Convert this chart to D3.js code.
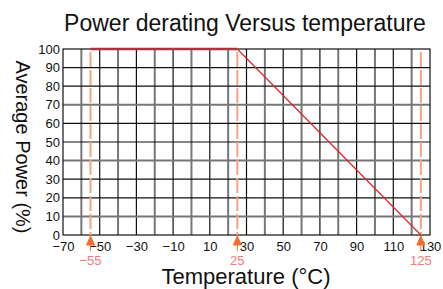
<!DOCTYPE html>
<html>
<head>
<meta charset="utf-8">
<script src="https://cdn.jsdelivr.net/npm/d3@7"></script>
<style>
  body { margin: 0; background: #fff; }
  text { font-family: "Liberation Sans", Arial, sans-serif; }
</style>
</head>
<body>
<svg id="chart" width="443" height="289"></svg>
<script>
const xTicks = [-70, -50, -30, -10, 10, 30, 50, 70, 90, 110, 130];
const yTicks = [0, 10, 20, 30, 40, 50, 60, 70, 80, 90, 100];
const xGrid = d3.range(-60, 130, 10);
const markTemps = [-55, 25, 125];
const flatPart = [[-55, 100], [25, 100]];
const slopePart = [[25, 100], [125, 0]];

const margin = { top: 49, left: 63, right: 13, bottom: 54 };
const width = 443;
const height = 289;
const innerW = width - margin.left - margin.right;
const innerH = height - margin.top - margin.bottom;

const svg = d3.select('#chart');
const g = svg.append('g').attr('transform', `translate(${margin.left},${margin.top})`);

const x = d3.scaleLinear().domain([-70, 130]).range([0, innerW]);
const y = d3.scaleLinear().domain([0, 100]).range([innerH, 0]);

// grid
g.selectAll('.vgrid')
  .data(xGrid)
  .enter().append('line')
    .attr('x1', d => x(d)).attr('x2', d => x(d))
    .attr('y1', 0).attr('y2', innerH)
    .attr('stroke', d => (d % 20 === 0 ? '#777' : '#111'))
    .attr('stroke-width', d => (d % 20 === 0 ? 2 : 1.2));

g.selectAll('.hgrid')
  .data(yTicks.filter(d => d > 0 && d < 100))
  .enter().append('line')
    .attr('x1', 0).attr('x2', innerW)
    .attr('y1', d => y(d)).attr('y2', d => y(d))
    .attr('stroke', d => (d % 30 === 10 ? '#777' : '#111'))
    .attr('stroke-width', d => (d % 30 === 10 ? 2 : 1.2));

g.append('rect')
  .attr('width', innerW).attr('height', innerH)
  .attr('fill', 'none').attr('stroke', '#111').attr('stroke-width', 1.2);

// axes
const xAxis = g.append('g')
  .attr('transform', `translate(0,${innerH})`)
  .call(d3.axisBottom(x).tickValues(xTicks).tickSize(0).tickPadding(7).tickFormat(d3.format('')));
xAxis.select('.domain').remove();
xAxis.selectAll('text').attr('font-size', 13).attr('fill', '#111');

const yAxis = g.append('g')
  .call(d3.axisLeft(y).tickValues(yTicks).tickSize(0).tickPadding(3));
yAxis.select('.domain').remove();
yAxis.selectAll('text').attr('font-size', 13).attr('fill', '#111');

// marker lines
g.selectAll('.mark')
  .data(markTemps)
  .enter().append('line')
    .attr('x1', d => x(d)).attr('x2', d => x(d))
    .attr('y1', 3).attr('y2', innerH)
    .attr('stroke', '#f5a47e').attr('stroke-width', 2)
    .attr('stroke-dasharray', '15,3');

g.selectAll('.arrow')
  .data(markTemps)
  .enter().append('path')
    .attr('d', d => `M${x(d)},${innerH + 1} l-4,9 l8,0 z M${x(d)},${innerH + 9} l0,7`)
    .attr('fill', '#f36d2c').attr('stroke', '#f36d2c').attr('stroke-width', 1);

g.selectAll('.markLabel')
  .data(markTemps)
  .enter().append('text')
    .attr('x', d => x(d)).attr('y', innerH + 30)
    .attr('text-anchor', 'middle')
    .attr('font-size', 13).attr('fill', '#f27a7a')
    .text(d => d3.format('')(d));

// derating curve
const line = d3.line().x(d => x(d[0])).y(d => y(d[1]));
g.append('path').datum(flatPart).attr('d', line)
  .attr('fill', 'none').attr('stroke', '#a83640').attr('stroke-width', 2.5);
g.append('path').datum(slopePart).attr('d', line)
  .attr('fill', 'none').attr('stroke', '#e0242c').attr('stroke-width', 1.2);

// titles
svg.append('text')
  .attr('x', 245).attr('y', 31)
  .attr('text-anchor', 'middle').attr('font-size', 23).attr('fill', '#111')
  .text('Power derating Versus temperature');

svg.append('text')
  .attr('transform', 'translate(16,147) rotate(90)')
  .attr('text-anchor', 'middle').attr('font-size', 20).attr('fill', '#111')
  .text('Average Power (%)');

svg.append('text')
  .attr('x', 246).attr('y', 284)
  .attr('text-anchor', 'middle').attr('font-size', 22).attr('fill', '#111')
  .text('Temperature (°C)');
</script>
</body>
</html>
